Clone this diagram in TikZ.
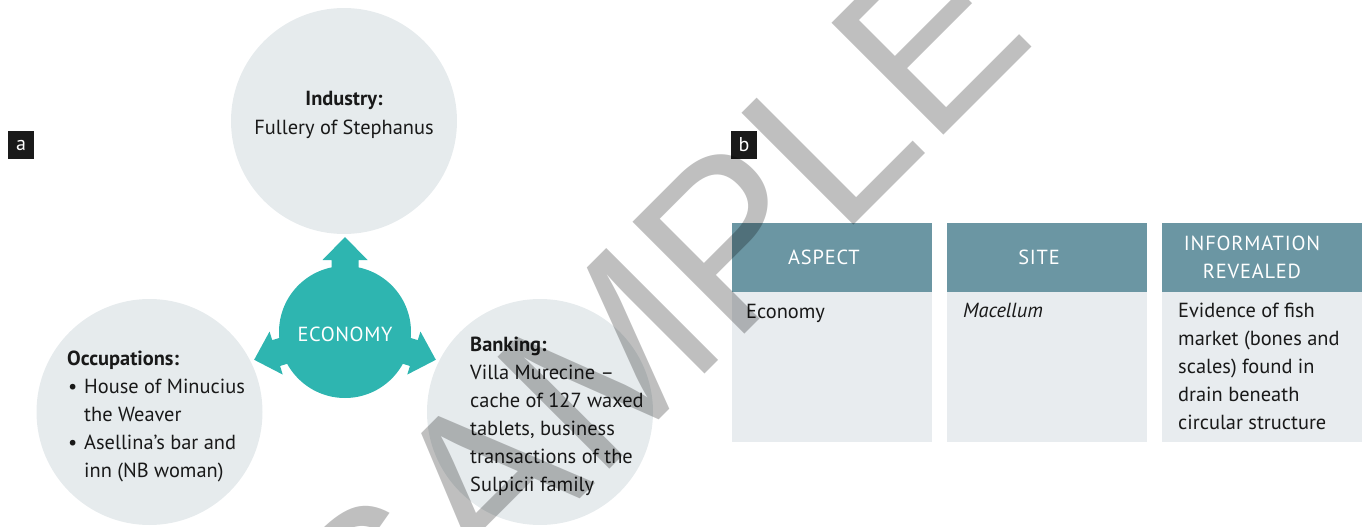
\documentclass[tikz,border=0pt]{standalone}
\usepackage{fontspec}
\setmainfont{PT Sans}
\newfontfamily\wmfont{Liberation Sans}
\definecolor{circgray}{RGB}{230,235,237}
\definecolor{cellgray}{RGB}{232,236,239}
\definecolor{hdrblue}{RGB}{107,150,163}
\definecolor{teal}{RGB}{46,181,176}
\definecolor{ink}{RGB}{25,25,25}
\definecolor{lblblack}{RGB}{26,26,26}
\tikzset{
  bubble/.style={circle, fill=circgray, minimum size=226pt, inner sep=0},
  hub/.style={circle, fill=teal, minimum size=132pt, inner sep=0},
  txt/.style={text=ink, inner sep=0, font=\fontsize{20.4}{28}\selectfont},
  btxt/.style={txt, font=\fontsize{20.4}{28}\selectfont\bfseries},
  lbl/.style={fill=lblblack, text=white, minimum width=26pt, minimum height=28pt, inner sep=0, font=\fontsize{20}{22}\selectfont},
  hdr/.style={fill=hdrblue, minimum width=200pt, minimum height=69pt, inner sep=0},
  htxt/.style={text=white, inner sep=0, align=center, font=\fontsize{20.4}{28}\selectfont\addfontfeature{LetterSpace=4}},
  cell/.style={fill=cellgray, minimum width=200pt, minimum height=150pt, inner sep=0},
  spoke/.style={fill=teal},
  wm/.style={text=black, text opacity=0.25, inner sep=0, font=\wmfont\fontsize{230}{230}\selectfont}
}
\begin{document}
\begin{tikzpicture}[x=1pt,y=-1pt]
\useasboundingbox (0,0) rectangle (1363,527);
\clip (0,0) rectangle (1363,527);

% panel labels
\node[lbl] (la) at (21,145) {a};
\node[lbl] (lb) at (744,145) {b};

% bubbles
\node[bubble] (ind) at (344,121) {};
\node[bubble] (occ) at (149.5,412) {};
\node[bubble] (bank) at (540,412) {};

% hub with three arrows
\foreach \r in {0,107,-107}{
  \begin{scope}[shift={(345,332)}, rotate=\r]
    \fill[spoke] (-13.5,-50) -- (-13.5,-72) -- (-22.5,-72) -- (0,-95) -- (22.5,-72) -- (13.5,-72) -- (13.5,-50) -- cycle;
  \end{scope}
}
\node[hub] (eco) at (345,332) {};
\node[txt, text=white, anchor=base, font=\fontsize{20.4}{28}\selectfont\addfontfeature{LetterSpace=3}] (ecoT) at (345,341) {ECONOMY};

% Industry
\node[btxt, anchor=base] (ind1) at (344,106) {Industry:};
\node[txt, anchor=base] (ind2) at (344,134.5) {Fullery of Stephanus};

% Occupations
\node[btxt, anchor=base west] (occ0) at (67,365) {Occupations:};
\node[txt, anchor=base west] (occb1) at (68,393) {\textbullet};
\node[txt, anchor=base west] (occ1) at (84,393) {House of Minucius};
\node[txt, anchor=base west] (occ2) at (84,421) {the Weaver};
\node[txt, anchor=base west] (occb2) at (68,449) {\textbullet};
\node[txt, anchor=base west] (occ3) at (84,449) {Asellina's bar and};
\node[txt, anchor=base west] (occ4) at (84,477) {inn (NB woman)};

% Banking
\node[btxt, anchor=base west] (bank0) at (470,351) {Banking:};
\foreach \t [count=\i] in {Villa Murecine –, cache of 127 waxed, {tablets, business}, transactions of the, Sulpicii family}{
  \node[txt, anchor=base west] (bank\i) at (470,351+28*\i) {\t};
}

% table
\node[hdr] (h1) at (832,257.5) {};
\node[hdr] (h2) at (1046.5,257.5) {};
\node[hdr] (h3) at (1262,257.5) {};
\node[htxt] (h1t) at (824,257.5) {ASPECT};
\node[htxt] (h2t) at (1039,257.5) {SITE};
\node[htxt] (h3t) at (1252,257.5) {INFORMATION\\REVEALED};
\node[cell] (c1) at (832,367) {};
\node[cell] (c2) at (1046.5,367) {};
\node[cell] (c3) at (1262,367) {};
\node[txt, anchor=base west] (c1t) at (746,318) {Economy};
\node[txt, anchor=base west] (c2t) at (963,317) {\itshape Macellum};
\foreach \t [count=\i from 0] in {Evidence of fish, market (bones and, scales) found in, drain beneath, circular structure}{
  \node[txt, anchor=base west] (c3t\i) at (1178,317+28*\i) {\t};
}

% watermark
\node[wm, rotate=45, anchor=base west] (wmark) at (379,700) {SAMPLE};
\end{tikzpicture}
\end{document}
